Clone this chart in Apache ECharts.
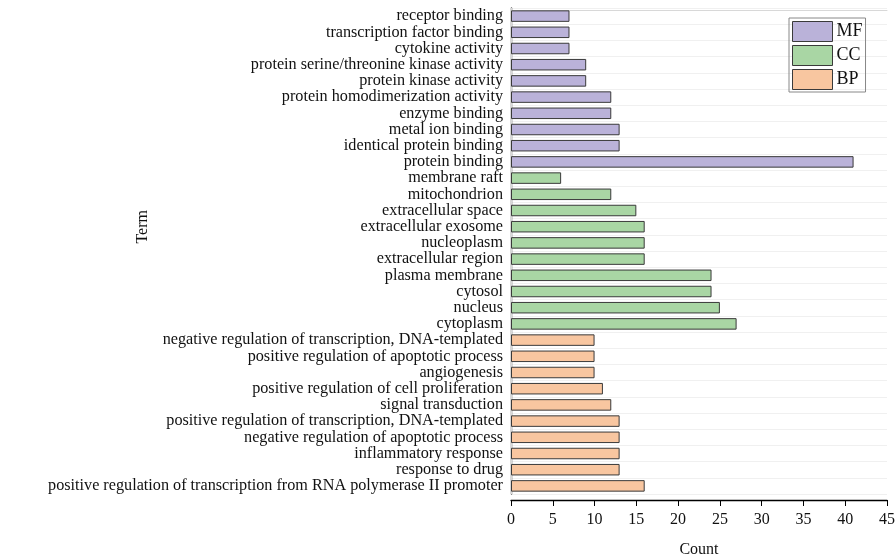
<!DOCTYPE html>
<html><head><meta charset="utf-8">
<script src="https://cdn.jsdelivr.net/npm/echarts@6/dist/echarts.min.js"></script>
<style>html,body{margin:0;padding:0;background:#fff}#c{width:895px;height:556px}</style>
</head><body><div id="c"></div>
<script>
// categories listed top to bottom
const categories = [
  'receptor binding','transcription factor binding','cytokine activity',
  'protein serine/threonine kinase activity','protein kinase activity',
  'protein homodimerization activity','enzyme binding','metal ion binding',
  'identical protein binding','protein binding',
  'membrane raft','mitochondrion','extracellular space','extracellular exosome',
  'nucleoplasm','extracellular region','plasma membrane','cytosol','nucleus','cytoplasm',
  'negative regulation of transcription, DNA-templated','positive regulation of apoptotic process',
  'angiogenesis','positive regulation of cell proliferation','signal transduction',
  'positive regulation of transcription, DNA-templated','negative regulation of apoptotic process',
  'inflammatory response','response to drug',
  'positive regulation of transcription from RNA polymerase II promoter'
];
const groups = ['MF','CC','BP'];
const mfTerms = categories.slice(0,10);
const mfCounts = [7,7,7,9,9,12,12,13,13,41];
const ccTerms = categories.slice(10,20);
const ccCounts = [6,12,15,16,16,16,24,24,25,27];
const bpTerms = categories.slice(20,30);
const bpCounts = [10,10,10,11,12,13,13,13,13,16];
const xTicks = [0,5,10,15,20,25,30,35,40,45];

const colors = {MF:'#bab2d9', CC:'#a9d6a4', BP:'#f8c6a0'};
function seriesData(terms, counts){
  return categories.map(c => { const i = terms.indexOf(c); return i>=0 ? counts[i] : null; });
}
const font = '"Liberation Serif","Times New Roman",serif';
const chart = echarts.init(document.getElementById('c'), null, {renderer:'canvas'});
const mk = (name, terms, counts) => ({
  name, type:'bar', stack:'all', barWidth:11.5,
  data: seriesData(terms, counts),
  itemStyle:{color:colors[name], borderColor:'#3a3a3a', borderWidth:1, borderRadius:0},
  emphasis:{disabled:true}
});
chart.setOption({
  animation:false,
  textStyle:{fontFamily:font},
  grid:{left:511, right:8, top:8, height:486, outerBoundsMode:'none', containLabel:false},
  legend:{
    data:groups.map(g => ({name:g, icon:'rect'})), orient:'vertical', left:789, top:18,
    itemWidth:40, itemHeight:20, itemGap:3, padding:[3,3,2,3],
    borderColor:'#888', borderWidth:1,
    itemStyle:{borderColor:'#3a3a3a', borderWidth:1},
    textStyle:{fontFamily:font, fontSize:18, color:'#111', padding:[0,0,0,-1]}
  },
  xAxis:[{
    type:'value', min:0, max:45, interval:5, offset:6,
    axisLine:{show:true, lineStyle:{color:'#000', width:1.3}},
    axisTick:{show:true, length:6, lineStyle:{color:'#000'}},
    axisLabel:{fontFamily:font, fontSize:16, color:'#111', margin:12,
      formatter: v => xTicks.includes(v) ? String(v) : ''},
    splitLine:{show:false},
    name:'Count', nameLocation:'middle', nameGap:42,
    nameTextStyle:{fontFamily:font, fontSize:16, color:'#111'}
  },{
    type:'value', position:'top', min:0, max:45, offset:-2,
    axisLine:{show:true, lineStyle:{color:'#d8d8d8'}},
    axisTick:{show:false}, axisLabel:{show:false}, splitLine:{show:false}
  }],
  yAxis:[{
    type:'category', data:categories, inverse:true,
    axisLine:{show:true, lineStyle:{color:'#000', width:1.3}},
    axisTick:{show:false},
    axisLabel:{interval:0, fontFamily:font, fontSize:16.2, color:'#111', margin:8},
    splitLine:{show:true, interval:0, lineStyle:{color:'#f0f0f0'}}
  },{
    type:'category', data:categories, inverse:true, position:'right',
    axisLine:{show:true, lineStyle:{color:'#d8d8d8'}},
    axisTick:{show:false}, axisLabel:{show:false}
  }],
  graphic:[{
    type:'text', left:135, top:210, rotation:Math.PI/2,
    style:{text:'Term', fontFamily:font, fontSize:16, fill:'#111'}
  }],
  series:[mk('MF', mfTerms, mfCounts), mk('CC', ccTerms, ccCounts), mk('BP', bpTerms, bpCounts)]
});
</script></body></html>
